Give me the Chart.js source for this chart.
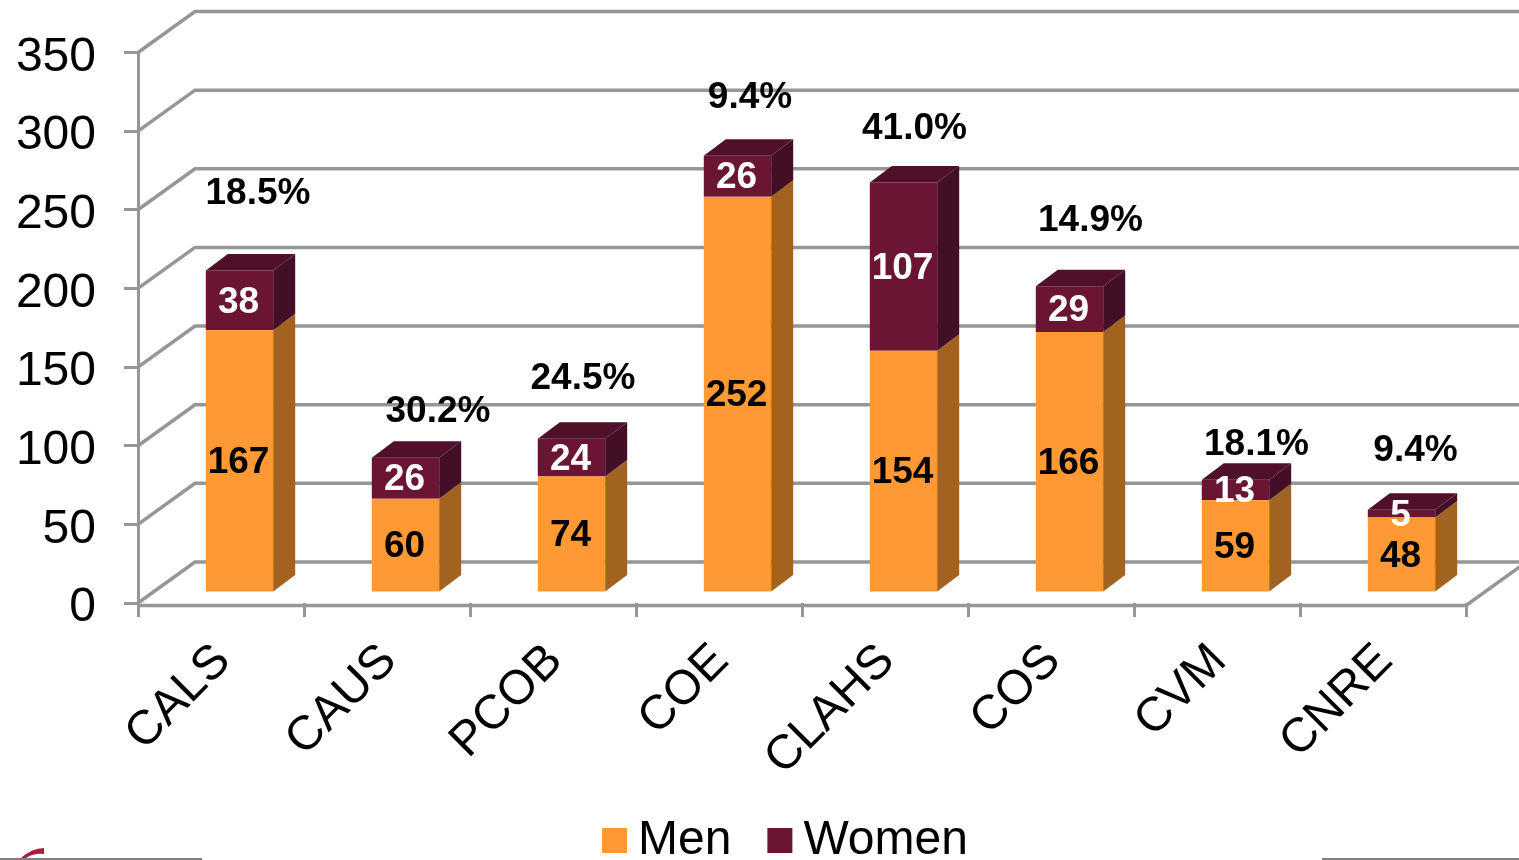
<!DOCTYPE html>
<html>
<head>
<meta charset="utf-8">
<title>Enrollment by college</title>
<script src="https://cdn.jsdelivr.net/npm/chart.js@4/dist/chart.umd.min.js"></script>
<style>
  html, body { margin: 0; padding: 0; background: #fff; overflow: hidden; }
  canvas { display: block; }
</style>
</head>
<body>
<canvas id="myChart" width="1519" height="860"></canvas>
<script>
const colleges = ["CALS", "CAUS", "PCOB", "COE", "CLAHS", "COS", "CVM", "CNRE"];
const men = [167, 60, 74, 252, 154, 166, 59, 48];
const women = [38, 26, 24, 26, 107, 29, 13, 5];
const percentWomen = ["18.5%", "30.2%", "24.5%", "9.4%", "41.0%", "14.9%", "18.1%", "9.4%"];
const yTicks = [0, 50, 100, 150, 200, 250, 300, 350];

// where the percent text sits, measured from the top of each bar
const percentNudgeX = [18.5, 32.5, 11.5, 12.5, 11, 21, 21, 14];
const percentNudgeY = [77, 46, 60, 58, 54, 65, 35, 59];

const fontName = '"Liberation Sans", Arial, sans-serif';
const gridColor = "#969696";

// fake 3d: back wall offset, bar depth, and how far bars sit inside the floor
const wallX = 57;
const wallY = 41;
const depthX = 22;
const depthY = 16.5;
const shiftX = 18.5;
const shiftY = 10;
const floorDrop = 2.5;

const sideColors = ["#A36320", "#430F26"];
const topColor = "#501029";

function drawFace(ctx, color, points) {
  ctx.fillStyle = color;
  ctx.beginPath();
  points.forEach((p, i) => (i === 0 ? ctx.moveTo(p[0], p[1]) : ctx.lineTo(p[0], p[1])));
  ctx.closePath();
  ctx.fill();
}

const wallPlugin = {
  id: "wall",
  beforeDatasetsDraw(chart) {
    const { ctx, chartArea, scales } = chart;
    ctx.save();
    ctx.strokeStyle = gridColor;
    ctx.lineWidth = 3.5;
    yTicks.forEach((value) => {
      const y = scales.y.getPixelForValue(value);
      ctx.beginPath();
      ctx.moveTo(chartArea.left, y);
      ctx.lineTo(chartArea.left + wallX, y - wallY);
      ctx.lineTo(chartArea.right + wallX, y - wallY);
      ctx.stroke();
    });
    // front and right edge of the floor
    ctx.beginPath();
    ctx.moveTo(chartArea.left - 1, chartArea.bottom + floorDrop);
    ctx.lineTo(chartArea.right, chartArea.bottom + floorDrop);
    ctx.lineTo(chartArea.right + wallX, chartArea.bottom + floorDrop - wallY);
    ctx.stroke();
    ctx.restore();

    // bars stand a bit behind the front of the floor
    ctx.save();
    ctx.translate(shiftX, -shiftY);
  },
  afterDatasetsDraw(chart) {
    const { ctx } = chart;
    ctx.restore();

    ctx.save();
    ctx.translate(shiftX, -shiftY);
    chart.data.datasets.forEach((ds, d) => {
      chart.getDatasetMeta(d).data.forEach((bar) => {
        const right = bar.x + bar.width / 2;
        const left = bar.x - bar.width / 2;
        drawFace(ctx, sideColors[d], [
          [right, bar.y],
          [right + depthX, bar.y - depthY],
          [right + depthX, bar.base - depthY],
          [right, bar.base],
        ]);
        if (d === chart.data.datasets.length - 1) {
          drawFace(ctx, topColor, [
            [left, bar.y],
            [left + depthX, bar.y - depthY],
            [right + depthX, bar.y - depthY],
            [right, bar.y],
          ]);
        }
      });
    });

    // value labels
    ctx.font = "bold 37px " + fontName;
    ctx.textAlign = "center";
    ctx.textBaseline = "middle";
    chart.data.datasets.forEach((ds, d) => {
      ctx.fillStyle = d === 0 ? "#000000" : "#FFFFFF";
      chart.getDatasetMeta(d).data.forEach((bar, i) => {
        ctx.fillText(ds.data[i], bar.x - 1, (bar.y + bar.base) / 2 + 2);
      });
    });

    // share of women above each bar
    ctx.fillStyle = "#000000";
    chart.getDatasetMeta(1).data.forEach((bar, i) => {
      ctx.fillText(percentWomen[i], bar.x + percentNudgeX[i], bar.y - percentNudgeY[i]);
    });
    ctx.restore();
  },
};

const legendPlugin = {
  id: "bottomLegend",
  afterDraw(chart) {
    const { ctx } = chart;
    ctx.save();
    ctx.font = "48px " + fontName;
    ctx.textBaseline = "middle";
    ctx.textAlign = "left";
    let x = 602;
    chart.data.datasets.forEach((ds) => {
      ctx.fillStyle = ds.backgroundColor;
      ctx.fillRect(x, 828, 25, 25);
      ctx.fillStyle = "#000000";
      ctx.fillText(ds.label, x + 36, 841);
      x += 36 + ctx.measureText(ds.label).width + 36;
    });

    // bits of the slide footer cut off by the crop
    ctx.fillStyle = "#808080";
    ctx.fillRect(0, 858, 202, 2);
    ctx.fillRect(1322, 858, 197, 2);
    ctx.fillStyle = "#A5203F";
    ctx.beginPath();
    ctx.moveTo(21, 858);
    ctx.quadraticCurveTo(32, 848, 44, 848);
    ctx.lineTo(44, 854);
    ctx.quadraticCurveTo(34, 853, 26, 858);
    ctx.closePath();
    ctx.fill();
    ctx.restore();
  },
};

new Chart(document.getElementById("myChart"), {
  type: "bar",
  data: {
    labels: colleges,
    datasets: [
      { label: "Men", data: men, backgroundColor: "#FF9933" },
      { label: "Women", data: women, backgroundColor: "#6B1535" },
    ],
  },
  options: {
    responsive: false,
    animation: false,
    devicePixelRatio: 1,
    barPercentage: 0.406,
    categoryPercentage: 1,
    layout: { padding: { top: 52.5, right: 53, bottom: 0, left: 0 } },
    plugins: { legend: { display: false }, tooltip: { enabled: false } },
    scales: {
      x: {
        stacked: true,
        afterFit(scale) {
          scale.height = 257;
        },
        border: { display: false },
        grid: { drawOnChartArea: false, color: gridColor, lineWidth: 3, tickLength: 14 },
        ticks: {
          color: "#000000",
          font: { family: fontName, size: 48 },
          minRotation: 45,
          maxRotation: 45,
          padding: 16,
          labelOffset: 2,
          autoSkip: false,
        },
      },
      y: {
        stacked: true,
        min: 0,
        max: 350,
        afterFit(scale) {
          scale.width = 138;
          // tick padding would otherwise push the top of the chart down
          scale.paddingTop = 0;
          scale.paddingBottom = 0;
        },
        afterBuildTicks(scale) {
          scale.ticks = yTicks.map((value) => ({ value }));
        },
        border: { color: gridColor, width: 3 },
        grid: { drawOnChartArea: false, color: gridColor, lineWidth: 3, tickLength: 14 },
        ticks: {
          color: "#000000",
          font: { family: fontName, size: 48 },
          padding: 28,
          labelOffset: 5,
        },
      },
    },
  },
  plugins: [wallPlugin, legendPlugin],
});
</script>
</body>
</html>
